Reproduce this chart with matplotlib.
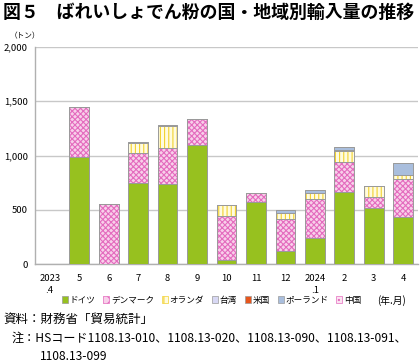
import matplotlib
matplotlib.use("Agg")
import matplotlib.pyplot as plt
from matplotlib.patches import Patch
import numpy as np

plt.rcParams['font.family'] = ['Noto Sans CJK JP', 'DejaVu Sans']
plt.rcParams['hatch.linewidth'] = 0.8

months = ['2023\n.4', '5', '6', '7', '8', '9', '10', '11', '12', '2024\n.1', '2', '3', '4']
germany     = [0, 985, 0, 743, 740, 1093, 40, 568, 123, 237, 666, 516, 433]
denmark     = [4, 463, 555, 276, 331, 242, 402, 89, 294, 361, 273, 101, 347]
netherlands = [0, 0, 0, 98, 200, 0, 98, 0, 56, 53, 104, 98, 37]
taiwan      = [0, 0, 0, 0, 0, 0, 0, 0, 0, 0, 12, 8, 0]
usa         = [0, 0, 0, 0, 0, 0, 0, 0, 0, 0, 0, 0, 0]
poland      = [0, 0, 0, 3, 9, 0, 0, 0, 24, 28, 22, 0, 110]
china       = [0, 0, 0, 0, 0, 0, 0, 0, 0, 0, 0, 0, 0]

series = [
    ('ドイツ', germany, dict(facecolor='#97C11F', hatch=None, hcolor=None)),
    ('デンマーク', denmark, dict(facecolor='#F8D0EA', hatch='xxxxxx', hcolor='#E46BBE')),
    ('オランダ', netherlands, dict(facecolor='#FFFBE0', hatch='||||', hcolor='#F2D130')),
    ('台湾', taiwan, dict(facecolor='#D8D8F4', hatch=None, hcolor=None)),
    ('米国', usa, dict(facecolor='#E8561C', hatch=None, hcolor=None)),
    ('ポーランド', poland, dict(facecolor='#A9BEDD', hatch=None, hcolor=None)),
    ('中国', china, dict(facecolor='#FBE3F1', hatch='....', hcolor='#E46BBE')),
]

fig = plt.figure(figsize=(4.2, 3.63), dpi=100)
ax = fig.add_axes([35/420, 1-264/363, 383/420, 217/363])

x = np.arange(len(months))
width = 0.67
bottom = np.zeros(len(months))
handles = []
for name, vals, st in series:
    v = np.array(vals, dtype=float)
    if st['hatch']:
        ax.bar(x, v, width, bottom=bottom, facecolor=st['facecolor'], hatch=st['hatch'],
               edgecolor=st['hcolor'], linewidth=0, zorder=3)
        ax.bar(x, v, width, bottom=bottom, facecolor='none', edgecolor='#9a9a9a',
               linewidth=0.7, zorder=4)
        handles.append(Patch(facecolor=st['facecolor'], hatch=st['hatch'][:3],
                             edgecolor=st['hcolor'], linewidth=0.5))
    else:
        ax.bar(x, v, width, bottom=bottom, facecolor=st['facecolor'], edgecolor='#9a9a9a',
               linewidth=0.7, zorder=3)
        handles.append(Patch(facecolor=st['facecolor'], edgecolor='#9a9a9a', linewidth=0.5))
    bottom += v

ax.set_xlim(-0.5, len(months) - 0.5)
ax.set_ylim(0, 2000)
ax.set_yticks([0, 500, 1000, 1500, 2000])
ax.set_yticklabels(['0', '500', '1,000', '1,500', '2,000'], fontsize=6.8)
ax.set_xticks(x)
ax.set_xticklabels(months, fontsize=6.8, linespacing=1.5, va='top')
ax.tick_params(length=0, pad=5)
ax.tick_params(axis='x', pad=7)
ax.grid(axis='y', color='#c8c8c8', linewidth=1.0, zorder=0)
ax.set_axisbelow(True)
for s in ['top', 'right']:
    ax.spines[s].set_visible(False)
for s in ['left', 'bottom']:
    ax.spines[s].set_color('#b0b0b0')
    ax.spines[s].set_linewidth(1.0)

fig.text(3/420, 1-13/363, '図５　ばれいしょでん粉の国・地域別輸入量の推移', fontsize=12.9,
         fontweight='bold', va='center', ha='left')
fig.text(10/420, 1-36/363, '（トン）', fontsize=5.5, va='center', ha='left')

fig.legend(handles, [s[0] for s in series], loc='center left',
           bbox_to_anchor=(62/420, 1-300/363), ncol=7, frameon=False, fontsize=6.2,
           handlelength=0.7, handleheight=0.7, handletextpad=0.2, columnspacing=0.9,
           borderpad=0, borderaxespad=0)
fig.text(377/420, 1-301/363, '(年.月)', fontsize=7, va='center', ha='left')

fig.text(3/420, 1-319/363, '資料：財務省「貿易統計」', fontsize=9, va='center', ha='left')
fig.text(12/420, 1-338/363, '注：HSコード1108.13-010、1108.13-020、1108.13-090、1108.13-091、',
         fontsize=8.7, va='center', ha='left')
fig.text(40/420, 1-356/363, '1108.13-099', fontsize=8.7, va='center', ha='left')

fig.savefig('out.png', dpi=100)
